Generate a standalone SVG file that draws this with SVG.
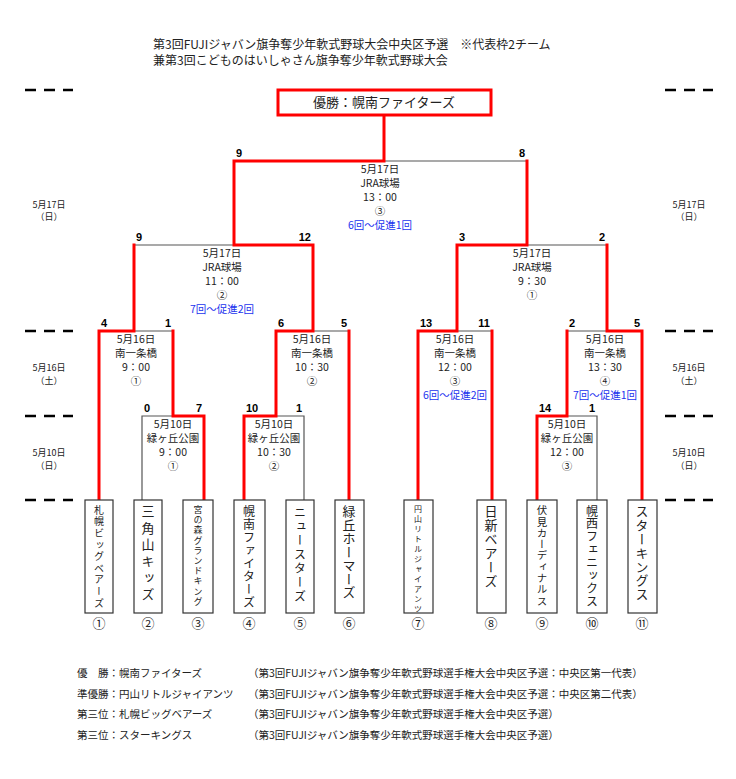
<svg xmlns="http://www.w3.org/2000/svg" width="736" height="779" viewBox="0 0 736 779">
<style>
text{font-family:"Noto Sans CJK JP",sans-serif;fill:#222}
.t{font-size:10.5px;text-anchor:middle}
.b{fill:#2233ee}
.s{font-size:11px;font-weight:bold;fill:#000;font-family:"Liberation Sans",sans-serif}
.r{text-anchor:end}
.red{stroke:#ff0000;stroke-width:3;fill:none;stroke-linecap:square}
.gr{stroke:#555;stroke-width:1.2;fill:none}
.box{fill:#fff;stroke:#333;stroke-width:1.2}
.v{writing-mode:vertical-rl}
.dash{stroke:#000;stroke-width:2.5;stroke-dasharray:11 8}
.d{font-size:9px;text-anchor:middle}
.c{font-size:13px;text-anchor:middle}
.lg{font-size:10.5px}
</style>
<rect width="736" height="779" fill="#fff"/>
<g id="title">
<text x="153" y="49" font-size="12">第3回FUJIジャバン旗争奪少年軟式野球大会中央区予選　※代表枠2チーム</text>
<text x="153" y="65" font-size="12">兼第3回こどものはいしゃさん旗争奪少年軟式野球大会</text>
</g>
<g id="guides">
<line class="dash" x1="25" y1="90" x2="73" y2="90"/><line class="dash" x1="25" y1="331" x2="73" y2="331"/><line class="dash" x1="25" y1="416" x2="73" y2="416"/><line class="dash" x1="25" y1="500" x2="73" y2="500"/>
<line class="dash" x1="665" y1="90" x2="713" y2="90"/><line class="dash" x1="665" y1="331" x2="713" y2="331"/><line class="dash" x1="665" y1="416" x2="713" y2="416"/><line class="dash" x1="665" y1="500" x2="713" y2="500"/>
<text class="d" x="49" y="208">5月17日</text><text class="d" x="49" y="220">（日）</text>
<text class="d" x="49" y="371">5月16日</text><text class="d" x="49" y="384">（土）</text>
<text class="d" x="49" y="456">5月10日</text><text class="d" x="49" y="469">（日）</text>
<text class="d" x="689" y="208">5月17日</text><text class="d" x="689" y="220">（日）</text>
<text class="d" x="689" y="371">5月16日</text><text class="d" x="689" y="384">（土）</text>
<text class="d" x="689" y="456">5月10日</text><text class="d" x="689" y="469">（日）</text>
</g>
<g id="connectors">
<path class="gr" d="M384 161H527 M134 245H234 M527 245H607 M134 331H173 M313 331H349 M457 331H492 M567 331H607 M142 500V416H173 M276 416H304V500 M567 416H597V500"/>
<path class="red" d="M384 115V161H234V245 M527 161V245 M234 245H313V331 M134 245V331 M457 245H527 M457 245V331 M607 245V331H642V500 M134 331H99V500 M173 331V416H204V500 M313 331H276V416H244V500 M349 331V500 M457 331H418V500 M492 331V500 M567 331V416H537V500"/>
</g>
<g id="champion">
<rect x="278" y="90" width="213" height="25" fill="#fff" stroke="#ff0000" stroke-width="3"/>
<text x="384" y="107" font-size="13" text-anchor="middle">優勝：幌南ファイターズ</text>
</g>
<g id="scores">
<text class="s" x="236" y="157">9</text><text class="s r" x="525" y="157">8</text>
<text class="s" x="136" y="241">9</text><text class="s r" x="311" y="241">12</text>
<text class="s" x="459" y="241">3</text><text class="s r" x="605" y="241">2</text>
<text class="s" x="101" y="327">4</text><text class="s r" x="171" y="327">1</text>
<text class="s" x="278" y="327">6</text><text class="s r" x="347" y="327">5</text>
<text class="s" x="420" y="327">13</text><text class="s r" x="490" y="327">11</text>
<text class="s" x="569" y="327">2</text><text class="s r" x="640" y="327">5</text>
<text class="s" x="144" y="412">0</text><text class="s r" x="202" y="412">7</text>
<text class="s" x="246" y="412">10</text><text class="s r" x="302" y="412">1</text>
<text class="s" x="539" y="412">14</text><text class="s r" x="595" y="412">1</text>
</g>
<g id="m-final"><text class="t" x="380" y="173">5月17日</text><text class="t" x="380" y="187">JRA球場</text><text class="t" x="380" y="201">13：00</text><text class="t" x="380" y="215">③</text><text class="t b" x="380" y="229">6回～促進1回</text></g>
<g id="m-semi1"><text class="t" x="222" y="257">5月17日</text><text class="t" x="222" y="271">JRA球場</text><text class="t" x="222" y="285">11：00</text><text class="t" x="222" y="299">②</text><text class="t b" x="222" y="313">7回～促進2回</text></g>
<g id="m-semi2"><text class="t" x="532" y="257">5月17日</text><text class="t" x="532" y="271">JRA球場</text><text class="t" x="532" y="285">9：30</text><text class="t" x="532" y="299">①</text></g>
<g id="m-qf1"><text class="t" x="136" y="343">5月16日</text><text class="t" x="136" y="357">南一条橋</text><text class="t" x="136" y="371">9：00</text><text class="t" x="136" y="385">①</text></g>
<g id="m-qf2"><text class="t" x="312" y="343">5月16日</text><text class="t" x="312" y="357">南一条橋</text><text class="t" x="312" y="371">10：30</text><text class="t" x="312" y="385">②</text></g>
<g id="m-qf3"><text class="t" x="455" y="343">5月16日</text><text class="t" x="455" y="357">南一条橋</text><text class="t" x="455" y="371">12：00</text><text class="t" x="455" y="385">③</text><text class="t b" x="455" y="399">6回～促進2回</text></g>
<g id="m-qf4"><text class="t" x="605" y="343">5月16日</text><text class="t" x="605" y="357">南一条橋</text><text class="t" x="605" y="371">13：30</text><text class="t" x="605" y="385">④</text><text class="t b" x="605" y="399">7回～促進1回</text></g>
<g id="m-r1a"><text class="t" x="173" y="428">5月10日</text><text class="t" x="173" y="442">緑ヶ丘公園</text><text class="t" x="173" y="456">9：00</text><text class="t" x="173" y="470">①</text></g>
<g id="m-r1b"><text class="t" x="274" y="428">5月10日</text><text class="t" x="274" y="442">緑ヶ丘公園</text><text class="t" x="274" y="456">10：30</text><text class="t" x="274" y="470">②</text></g>
<g id="m-r1c"><text class="t" x="567" y="428">5月10日</text><text class="t" x="567" y="442">緑ヶ丘公園</text><text class="t" x="567" y="456">12：00</text><text class="t" x="567" y="470">③</text></g>
<g id="team1"><rect class="box" x="85" y="500" width="28" height="113"/><text class="v" x="99" y="505" font-size="10" letter-spacing="1.6">札幌ビッグベアーズ</text><text class="c" x="99" y="628">①</text></g>
<g id="team2"><rect class="box" x="134" y="500" width="28" height="113"/><text class="v" x="148" y="505" font-size="13" letter-spacing="3.5">三角山キッズ</text><text class="c" x="148" y="628">②</text></g>
<g id="team3"><rect class="box" x="183" y="500" width="30" height="113"/><text class="v" x="198" y="505" font-size="9" letter-spacing="1.2">宮の森グランドキング</text><text class="c" x="198" y="628">③</text></g>
<g id="team4"><rect class="box" x="234" y="500" width="31" height="113"/><text class="v" x="249" y="505" font-size="12" letter-spacing="1">幌南ファイターズ</text><text class="c" x="249" y="628">④</text></g>
<g id="team5"><rect class="box" x="286" y="500" width="28" height="113"/><text class="v" x="300" y="506" font-size="12" letter-spacing="2">ニュースターズ</text><text class="c" x="300" y="628">⑤</text></g>
<g id="team6"><rect class="box" x="335" y="500" width="29" height="113"/><text class="v" x="349" y="505" font-size="13" letter-spacing="0.5">緑丘ホーマーズ</text><text class="c" x="349" y="628">⑥</text></g>
<g id="team7"><rect class="box" x="404" y="500" width="29" height="113"/><text class="v" x="418" y="505" font-size="8" letter-spacing="2">円山リトルジャイアンツ</text><text class="c" x="418" y="628">⑦</text></g>
<g id="team8"><rect class="box" x="477" y="500" width="29" height="113"/><text class="v" x="491" y="505" font-size="13" letter-spacing="1">日新ベアーズ</text><text class="c" x="491" y="628">⑧</text></g>
<g id="team9"><rect class="box" x="527" y="500" width="30" height="113"/><text class="v" x="542" y="505" font-size="10.5" letter-spacing="0.8">伏見カーディナルス</text><text class="c" x="542" y="628">⑨</text></g>
<g id="team10"><rect class="box" x="577" y="500" width="30" height="113"/><text class="v" x="592" y="505" font-size="12" letter-spacing="0.9">幌西フェニックス</text><text class="c" x="592" y="628">⑩</text></g>
<g id="team11"><rect class="box" x="628" y="500" width="29" height="113"/><text class="v" x="642" y="505" font-size="13" letter-spacing="0.8">スターキングス</text><text class="c" x="642" y="628">⑪</text></g>
<g id="legend">
<text class="lg" x="77" y="677">優　勝：幌南ファイターズ</text><text class="lg" x="248" y="677">（第3回FUJIジャバン旗争奪少年軟式野球選手権大会中央区予選：中央区第一代表）</text>
<text class="lg" x="77" y="698">準優勝：円山リトルジャイアンツ</text><text class="lg" x="248" y="698">（第3回FUJIジャバン旗争奪少年軟式野球選手権大会中央区予選：中央区第二代表）</text>
<text class="lg" x="77" y="718">第三位：札幌ビッグベアーズ</text><text class="lg" x="248" y="718">（第3回FUJIジャバン旗争奪少年軟式野球選手権大会中央区予選）</text>
<text class="lg" x="77" y="739">第三位：スターキングス</text><text class="lg" x="248" y="739">（第3回FUJIジャバン旗争奪少年軟式野球選手権大会中央区予選）</text>
</g>
</svg>
